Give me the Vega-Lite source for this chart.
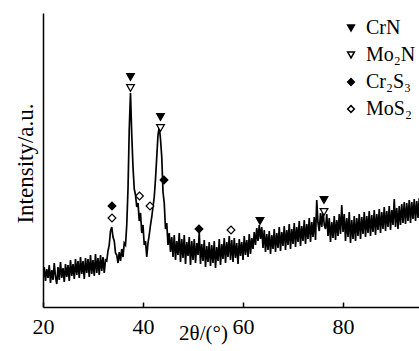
{
  "$schema": "https://vega.github.io/schema/vega-lite/v6.json",
  "width": 376,
  "height": 294,
  "autosize": {"type": "none"},
  "padding": {"left": 43, "top": 13, "right": 0, "bottom": 44},
  "background": "white",
  "config": {
    "view": {"stroke": null},
    "font": "Liberation Serif",
    "axis": {"grid": false, "titleFontWeight": "normal", "domainColor": "black", "domainWidth": 1.5, "tickColor": "black", "tickWidth": 1.5, "labelColor": "black", "titleColor": "black", "labelFont": "Liberation Serif", "titleFont": "Liberation Serif"},
    "legend": {"labelFont": "Liberation Serif", "labelFontSize": 20, "labelColor": "black"},
    "text": {"font": "Liberation Serif"}
  },
  "datasets": {
    "xrd": [
      {"t":20.0,"i":28},{"t":20.25,"i":40},{"t":20.5,"i":26},{"t":20.75,"i":38},{"t":21.0,"i":29},{"t":21.25,"i":42},{"t":21.5,"i":24},{"t":21.75,"i":37},
      {"t":22.0,"i":27},{"t":22.25,"i":44},{"t":22.5,"i":30},{"t":22.75,"i":23},{"t":23.0,"i":40},{"t":23.25,"i":27},{"t":23.5,"i":45},{"t":23.75,"i":29},
      {"t":24.0,"i":39},{"t":24.25,"i":25},{"t":24.5,"i":43},{"t":24.75,"i":30},{"t":25.0,"i":42},{"t":25.25,"i":26},{"t":25.5,"i":47},{"t":25.75,"i":31},
      {"t":26.0,"i":43},{"t":26.25,"i":28},{"t":26.5,"i":48},{"t":26.75,"i":32},{"t":27.0,"i":46},{"t":27.25,"i":29},{"t":27.5,"i":50},{"t":27.75,"i":33},
      {"t":28.0,"i":46},{"t":28.25,"i":28},{"t":28.5,"i":49},{"t":28.75,"i":34},{"t":29.0,"i":48},{"t":29.25,"i":30},{"t":29.5,"i":52},{"t":29.75,"i":33},
      {"t":30.0,"i":47},{"t":30.25,"i":31},{"t":30.5,"i":53},{"t":30.75,"i":34},{"t":31.0,"i":49},{"t":31.25,"i":32},{"t":31.5,"i":52},{"t":31.75,"i":36},
      {"t":32.0,"i":50},{"t":32.25,"i":34},{"t":32.5,"i":47},{"t":32.75,"i":46},{"t":33.0,"i":56},{"t":33.25,"i":62},{"t":33.5,"i":76},{"t":33.75,"i":80},
      {"t":34.0,"i":70},{"t":34.25,"i":66},{"t":34.5,"i":54},{"t":34.75,"i":52},{"t":35.0,"i":44},{"t":35.25,"i":55},{"t":35.5,"i":46},{"t":35.75,"i":58},
      {"t":36.0,"i":50},{"t":36.25,"i":64},{"t":36.5,"i":62},{"t":36.75,"i":82},{"t":37.0,"i":118},{"t":37.25,"i":178},{"t":37.5,"i":214},{"t":37.75,"i":172},
      {"t":38.0,"i":140},{"t":38.25,"i":118},{"t":38.5,"i":112},{"t":38.75,"i":100},{"t":39.0,"i":104},{"t":39.25,"i":86},{"t":39.5,"i":94},{"t":39.75,"i":74},
      {"t":40.0,"i":82},{"t":40.25,"i":62},{"t":40.5,"i":66},{"t":40.75,"i":50},{"t":41.0,"i":64},{"t":41.25,"i":72},{"t":41.5,"i":82},{"t":41.75,"i":90},
      {"t":42.0,"i":100},{"t":42.25,"i":110},{"t":42.5,"i":128},{"t":42.75,"i":150},{"t":43.0,"i":172},{"t":43.25,"i":180},{"t":43.5,"i":168},{"t":43.75,"i":150},
      {"t":44.0,"i":115},{"t":44.25,"i":104},{"t":44.5,"i":78},{"t":44.75,"i":84},{"t":45.0,"i":62},{"t":45.25,"i":74},{"t":45.5,"i":55},{"t":45.75,"i":70},
      {"t":46.0,"i":50},{"t":46.25,"i":72},{"t":46.5,"i":47},{"t":46.75,"i":66},{"t":47.0,"i":52},{"t":47.25,"i":74},{"t":47.5,"i":45},{"t":47.75,"i":68},
      {"t":48.0,"i":49},{"t":48.25,"i":72},{"t":48.5,"i":43},{"t":48.75,"i":65},{"t":49.0,"i":51},{"t":49.25,"i":70},{"t":49.5,"i":42},{"t":49.75,"i":66},
      {"t":50.0,"i":47},{"t":50.25,"i":68},{"t":50.5,"i":44},{"t":50.75,"i":64},{"t":51.0,"i":52},{"t":51.25,"i":75},{"t":51.5,"i":43},{"t":51.75,"i":63},
      {"t":52.0,"i":46},{"t":52.25,"i":67},{"t":52.5,"i":40},{"t":52.75,"i":61},{"t":53.0,"i":45},{"t":53.25,"i":65},{"t":53.5,"i":41},{"t":53.75,"i":62},
      {"t":54.0,"i":44},{"t":54.25,"i":66},{"t":54.5,"i":39},{"t":54.75,"i":60},{"t":55.0,"i":46},{"t":55.25,"i":68},{"t":55.5,"i":42},{"t":55.75,"i":63},
      {"t":56.0,"i":48},{"t":56.25,"i":69},{"t":56.5,"i":44},{"t":56.75,"i":65},{"t":57.0,"i":50},{"t":57.25,"i":71},{"t":57.5,"i":47},{"t":57.75,"i":67},
      {"t":58.0,"i":45},{"t":58.25,"i":69},{"t":58.5,"i":49},{"t":58.75,"i":64},{"t":59.0,"i":43},{"t":59.25,"i":68},{"t":59.5,"i":51},{"t":59.75,"i":65},
      {"t":60.0,"i":47},{"t":60.25,"i":71},{"t":60.5,"i":52},{"t":60.75,"i":67},{"t":61.0,"i":50},{"t":61.25,"i":73},{"t":61.5,"i":53},{"t":61.75,"i":69},
      {"t":62.0,"i":58},{"t":62.25,"i":75},{"t":62.5,"i":62},{"t":62.75,"i":79},{"t":63.0,"i":66},{"t":63.25,"i":82},{"t":63.5,"i":68},{"t":63.75,"i":80},
      {"t":64.0,"i":59},{"t":64.25,"i":77},{"t":64.5,"i":55},{"t":64.75,"i":73},{"t":65.0,"i":57},{"t":65.25,"i":76},{"t":65.5,"i":53},{"t":65.75,"i":72},
      {"t":66.0,"i":58},{"t":66.25,"i":78},{"t":66.5,"i":55},{"t":66.75,"i":74},{"t":67.0,"i":59},{"t":67.25,"i":80},{"t":67.5,"i":56},{"t":67.75,"i":75},
      {"t":68.0,"i":61},{"t":68.25,"i":81},{"t":68.5,"i":57},{"t":68.75,"i":77},{"t":69.0,"i":62},{"t":69.25,"i":83},{"t":69.5,"i":58},{"t":69.75,"i":78},
      {"t":70.0,"i":63},{"t":70.25,"i":84},{"t":70.5,"i":60},{"t":70.75,"i":80},{"t":71.0,"i":65},{"t":71.25,"i":86},{"t":71.5,"i":61},{"t":71.75,"i":81},
      {"t":72.0,"i":66},{"t":72.25,"i":87},{"t":72.5,"i":63},{"t":72.75,"i":83},{"t":73.0,"i":68},{"t":73.25,"i":89},{"t":73.5,"i":65},{"t":73.75,"i":85},
      {"t":74.0,"i":70},{"t":74.25,"i":90},{"t":74.5,"i":67},{"t":74.75,"i":107},{"t":75.0,"i":84},{"t":75.25,"i":76},{"t":75.5,"i":94},{"t":75.75,"i":80},
      {"t":76.0,"i":97},{"t":76.25,"i":82},{"t":76.5,"i":78},{"t":76.75,"i":93},{"t":77.0,"i":71},{"t":77.25,"i":89},{"t":77.5,"i":65},{"t":77.75,"i":85},
      {"t":78.0,"i":69},{"t":78.25,"i":91},{"t":78.5,"i":67},{"t":78.75,"i":87},{"t":79.0,"i":71},{"t":79.25,"i":93},{"t":79.5,"i":73},{"t":79.75,"i":102},
      {"t":80.0,"i":75},{"t":80.25,"i":93},{"t":80.5,"i":66},{"t":80.75,"i":89},{"t":81.0,"i":70},{"t":81.25,"i":95},{"t":81.5,"i":64},{"t":81.75,"i":87},
      {"t":82.0,"i":68},{"t":82.25,"i":91},{"t":82.5,"i":66},{"t":82.75,"i":89},{"t":83.0,"i":71},{"t":83.25,"i":93},{"t":83.5,"i":68},{"t":83.75,"i":90},
      {"t":84.0,"i":73},{"t":84.25,"i":95},{"t":84.5,"i":70},{"t":84.75,"i":91},{"t":85.0,"i":74},{"t":85.25,"i":96},{"t":85.5,"i":71},{"t":85.75,"i":92},
      {"t":86.0,"i":75},{"t":86.25,"i":97},{"t":86.5,"i":72},{"t":86.75,"i":93},{"t":87.0,"i":77},{"t":87.25,"i":98},{"t":87.5,"i":74},{"t":87.75,"i":95},
      {"t":88.0,"i":78},{"t":88.25,"i":100},{"t":88.5,"i":76},{"t":88.75,"i":96},{"t":89.0,"i":80},{"t":89.25,"i":101},{"t":89.5,"i":77},{"t":89.75,"i":97},
      {"t":90.0,"i":82},{"t":90.25,"i":108},{"t":90.5,"i":80},{"t":90.75,"i":99},{"t":91.0,"i":78},{"t":91.25,"i":101},{"t":91.5,"i":82},{"t":91.75,"i":103},
      {"t":92.0,"i":84},{"t":92.25,"i":105},{"t":92.5,"i":83},{"t":92.75,"i":104},{"t":93.0,"i":86},{"t":93.25,"i":107},{"t":93.5,"i":84},{"t":93.75,"i":105},
      {"t":94.0,"i":88},{"t":94.25,"i":108},{"t":94.5,"i":86},{"t":94.75,"i":106},{"t":95.0,"i":89},{"t":95.25,"i":109},{"t":95.5,"i":87},{"t":95.75,"i":107},
      {"t":96.0,"i":90}
    ],
    "marks": [
      {"t":37.5,"i":230,"phase":"CrN"},
      {"t":43.5,"i":190,"phase":"CrN"},
      {"t":63.4,"i":86,"phase":"CrN"},
      {"t":76.2,"i":107,"phase":"CrN"},
      {"t":37.5,"i":219,"phase":"Mo₂N"},
      {"t":43.5,"i":179,"phase":"Mo₂N"},
      {"t":76.2,"i":95,"phase":"Mo₂N"},
      {"t":33.8,"i":101,"phase":"Cr₂S₃"},
      {"t":44.2,"i":127,"phase":"Cr₂S₃"},
      {"t":51.2,"i":78,"phase":"Cr₂S₃"},
      {"t":33.8,"i":89,"phase":"MoS₂"},
      {"t":39.3,"i":111,"phase":"MoS₂"},
      {"t":41.4,"i":101,"phase":"MoS₂"},
      {"t":57.6,"i":77,"phase":"MoS₂"}
    ]
  },
  "layer": [
    {
      "data": {"name": "xrd"},
      "mark": {"type": "line", "color": "black", "strokeWidth": 1.7, "clip": true, "strokeJoin": "miter"},
      "encoding": {
        "x": {"field": "t", "type": "quantitative",
          "scale": {"domain": [20, 95.2], "nice": false, "zero": false},
          "axis": {"values": [20, 40, 60, 80], "tickSize": -5, "labelPadding": 14, "labelBaseline": "top", "labelFlush": false, "labelFontSize": 22, "labelFont": "Liberation Serif",
                   "title": "2θ/(°)", "titleFontSize": 21, "titleFont": "Liberation Serif", "titleX": 160, "titleY": 32, "titleBaseline": "alphabetic", "titleAlign": "center"}},
        "y": {"field": "i", "type": "quantitative",
          "scale": {"domain": [0, 294], "nice": false},
          "axis": {"ticks": false, "labels": false, "title": "Intensity/a.u.", "titleFontSize": 23, "titleFont": "Liberation Serif", "titleX": -11, "titleY": 150, "titleBaseline": "alphabetic", "titleAlign": "center", "titleAngle": -90}}
      }
    },
    {
      "mark": {"type": "rule", "color": "black", "strokeWidth": 1.5},
      "encoding": {"y": {"datum": 294}}
    },
    {
      "data": {"name": "marks"},
      "mark": {"type": "point", "filled": true, "stroke": "black", "strokeWidth": 1.2, "size": 60, "opacity": 1},
      "encoding": {
        "x": {"field": "t", "type": "quantitative"},
        "y": {"field": "i", "type": "quantitative"},
        "shape": {"field": "phase", "type": "nominal",
          "scale": {"domain": ["CrN", "Mo₂N", "Cr₂S₃", "MoS₂"], "range": ["triangle-down", "triangle-down", "diamond", "diamond"]},
          "legend": {"title": null, "orient": "none", "legendX": 298, "legendY": 5, "rowPadding": 7, "symbolSize": 45, "labelOffset": 5, "labelFont": "Liberation Serif", "labelFontSize": 20,
            "encode": {"symbols": {"update": {"stroke": {"value": "black"}, "strokeWidth": {"value": 1.2}}}}}},
        "fill": {"field": "phase", "type": "nominal",
          "scale": {"domain": ["CrN", "Mo₂N", "Cr₂S₃", "MoS₂"], "range": ["black", "white", "black", "white"]},
          "legend": {"title": null, "orient": "none", "legendX": 298, "legendY": 5, "rowPadding": 7, "symbolSize": 45, "labelOffset": 5, "labelFont": "Liberation Serif", "labelFontSize": 20,
            "encode": {"symbols": {"update": {"stroke": {"value": "black"}, "strokeWidth": {"value": 1.2}}}}}}
      }
    }
  ]
}
